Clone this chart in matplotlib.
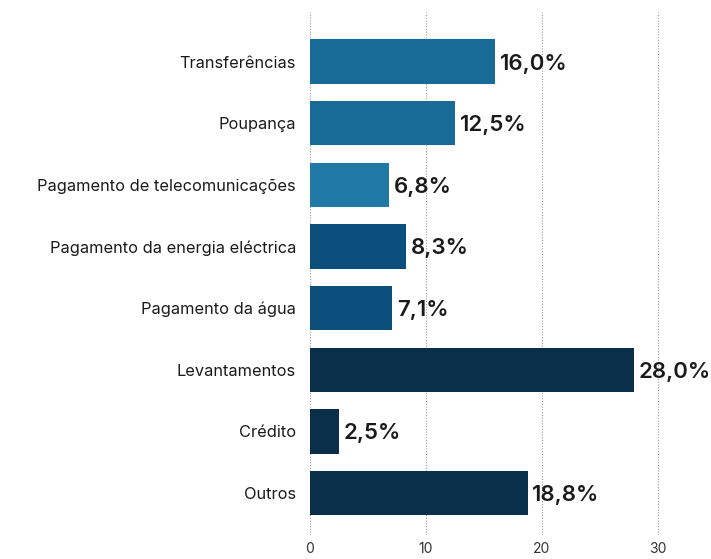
import matplotlib.pyplot as plt

# categorias (de cima para baixo) e percentagens
categorias = [
    "Transferências",
    "Poupança",
    "Pagamento de telecomunicações",
    "Pagamento da energia eléctrica",
    "Pagamento da água",
    "Levantamentos",
    "Crédito",
    "Outros",
]
valores = [16.0, 12.5, 6.8, 8.3, 7.1, 28.0, 2.5, 18.8]
cores = ["#176b96", "#176b96", "#2179a5", "#0b4e7b", "#0b4e7b",
         "#0a2f4b", "#0a2f4b", "#0a2f4b"]
ticks_x = [0, 10, 20, 30]

plt.rcParams["font.family"] = ["Inter", "DejaVu Sans"]

fig = plt.figure(figsize=(7.11, 5.59), dpi=100)
ax = fig.add_axes([0.436, 0.043, 0.554, 0.936])

pos = list(range(len(categorias)))
ax.barh(pos, valores, height=0.72, color=cores, zorder=2)

for y, v in zip(pos, valores):
    ax.text(v + 0.4, y + 0.03, f"{v:.1f}%".replace(".", ","), va="center", ha="left",
            fontsize=16, fontweight="semibold", color="#1a1a1a", zorder=3)

ax.set_xlim(0, 34)
ax.set_ylim(7.68, -0.81)
ax.set_yticks(pos)
ax.set_yticklabels(categorias, fontsize=11.8, color="#1a1a1a")
ax.set_xticks(ticks_x)
ax.set_xticklabels([str(t) for t in ticks_x], fontsize=10, color="#333333")
ax.tick_params(length=0, axis="both")
ax.tick_params(axis="y", pad=10)
ax.tick_params(axis="x", pad=5)

for t in ticks_x:
    ax.axvline(t, color="#999999", linestyle=(0, (1, 1.5)), linewidth=0.8, zorder=1)

for s in ax.spines.values():
    s.set_visible(False)

fig.savefig("out.png", dpi=100, facecolor="white")
